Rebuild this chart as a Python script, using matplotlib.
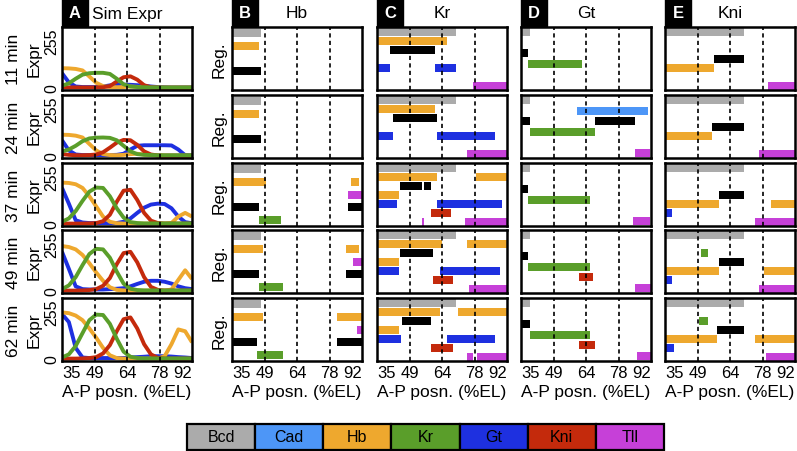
import numpy as np
import matplotlib
matplotlib.use('Agg')
import matplotlib.pyplot as plt
from matplotlib.patches import Rectangle

plt.rcParams['font.family'] = ['Liberation Sans', 'DejaVu Sans']

# ---- data ----
times = ['11 min', '24 min', '37 min', '49 min', '62 min']
xs = [35, 38, 41, 44, 47, 50, 53, 56, 59, 62, 65, 68, 71, 74, 77, 80, 83, 86, 89, 92]

# simulated expression (panel A), one list per time point
hb_expr = [
    [107, 106, 103, 95, 62, 28, 10, 5, 4, 5, 8, 6, 3, 2, 2, 1, 1, 1, 1, 1],
    [115, 114, 110, 100, 65, 30, 10, 5, 4, 6, 10, 12, 8, 4, 2, 1, 1, 1, 1, 1],
    [224, 222, 215, 195, 150, 95, 40, 12, 4, 2, 2, 2, 2, 2, 2, 2, 5, 40, 60, 40],
    [243, 238, 225, 195, 150, 100, 55, 20, 6, 3, 2, 2, 2, 2, 2, 2, 8, 60, 112, 65],
    [252, 248, 235, 210, 165, 115, 60, 20, 5, 2, 2, 2, 2, 2, 2, 15, 80, 160, 150, 90],
]
kr_expr = [
    [12, 25, 50, 72, 80, 82, 82, 76, 50, 20, 8, 5, 4, 3, 3, 3, 3, 3, 3, 3],
    [24, 35, 55, 80, 95, 99, 100, 98, 85, 55, 25, 10, 6, 5, 4, 4, 4, 4, 4, 4],
    [12, 30, 70, 125, 175, 197, 195, 150, 85, 35, 10, 5, 3, 3, 3, 3, 3, 3, 3, 3],
    [10, 30, 75, 140, 200, 228, 225, 180, 105, 40, 12, 5, 3, 3, 3, 3, 3, 3, 3, 3],
    [8, 25, 70, 140, 210, 240, 238, 190, 110, 40, 12, 5, 3, 3, 3, 3, 3, 3, 3, 3],
]
gt_expr = [
    [80, 30, 8, 5, 5, 5, 8, 14, 18, 18, 17, 15, 12, 8, 5, 3, 2, 2, 2, 2],
    [85, 30, 8, 5, 5, 5, 5, 5, 6, 12, 35, 55, 58, 58, 58, 58, 57, 35, 4, 2],
    [195, 110, 20, 8, 5, 5, 5, 5, 5, 12, 30, 60, 88, 105, 110, 108, 85, 40, 10, 4],
    [212, 120, 25, 10, 8, 8, 8, 10, 12, 15, 25, 38, 50, 55, 55, 50, 40, 25, 15, 10],
    [243, 200, 60, 8, 5, 5, 5, 5, 5, 5, 8, 10, 12, 15, 15, 15, 13, 10, 8, 5],
]
kni_expr = [
    [3, 3, 3, 3, 3, 3, 4, 10, 35, 58, 63, 45, 15, 4, 2, 2, 2, 2, 2, 2],
    [10, 6, 4, 4, 5, 8, 20, 45, 72, 87, 85, 60, 25, 8, 3, 2, 2, 2, 2, 2],
    [2, 2, 2, 2, 3, 5, 15, 50, 120, 180, 185, 130, 60, 18, 5, 2, 2, 2, 2, 2],
    [2, 2, 2, 3, 5, 10, 28, 70, 145, 205, 212, 155, 75, 22, 6, 2, 2, 2, 2, 2],
    [2, 2, 2, 3, 5, 10, 30, 75, 150, 215, 225, 165, 80, 25, 6, 2, 2, 2, 2, 2],
]

genes = ['Bcd', 'Cad', 'Hb', 'Kr', 'Gt', 'Kni', 'Tll']
colors = {'Bcd': '#ababab', 'Cad': '#4d96f7', 'Hb': '#eea82e', 'Kr': '#5a9e2a',
          'Gt': '#1e30e0', 'Kni': '#c42a0c', 'Tll': '#c640d8', 'self': 'black'}

targets = ['Hb', 'Kr', 'Gt', 'Kni']
letters = ['A', 'B', 'C', 'D', 'E']

# regulator lanes (top to bottom) for each target gene
lanes = {
    'Hb': ['Bcd', 'Hb', 'Tll', 'self', 'Kr'],
    'Kr': ['Bcd', 'Hb', 'self', 'Hb-', 'Gt', 'Kni', 'Tll'],
    'Gt': ['Bcd', 'Cad', 'self', 'Kr', 'Kni', 'Tll'],
    'Kni': ['Bcd', 'Cad', 'Kr', 'self', 'Hb-', 'Gt', 'Tll'],
}

# regulatory domains: (lane, start, end) per time point
reg_hb = [
    [('Bcd', 35, 47.8), ('Hb', 35, 46.8), ('self', 35, 47.8)],
    [('Bcd', 35, 47.8), ('Hb', 35, 46.8), ('self', 35, 47.8)],
    [('Bcd', 35, 47.8), ('Hb', 35, 49.7), ('Hb', 87, 90.8), ('Tll', 86, 92),
     ('self', 35, 46.8), ('self', 86, 92), ('Kr', 46.8, 56.7)],
    [('Bcd', 35, 47.8), ('Hb', 35, 48.7), ('Hb', 85, 90.8), ('Tll', 88, 92),
     ('self', 35, 46.8), ('self', 85, 92), ('Kr', 46.8, 57.5)],
    [('Bcd', 35, 47.8), ('Hb', 35, 48.7), ('Hb', 81, 92), ('Tll', 89.8, 92),
     ('self', 35, 45.9), ('self', 81, 92), ('Kr', 45.9, 57.5)],
]
reg_kr = [
    [('Bcd', 35, 69.5), ('Hb', 35, 65.6), ('self', 40.9, 60.4), ('Gt', 35, 40.9),
     ('Gt', 60.4, 69.5), ('Tll', 77.2, 92)],
    [('Bcd', 35, 69.5), ('Hb', 35, 60.4), ('self', 41.9, 61.4), ('Gt', 35, 41.9),
     ('Gt', 61.4, 86.9), ('Tll', 74.4, 92)],
    [('Bcd', 35, 69.5), ('Hb', 35, 61.4), ('Hb', 78.3, 92), ('self', 45, 54.8),
     ('self', 55.6, 58.5), ('Hb-', 35, 44.8), ('Gt', 35, 43.8), ('Gt', 61.4, 89.8),
     ('Kni', 58.5, 67.3), ('Tll', 54.6, 55.4), ('Tll', 73.5, 92)],
    [('Bcd', 35, 69.5), ('Hb', 35, 63.4), ('Hb', 74.4, 92), ('self', 45, 59.5),
     ('Hb-', 35, 44.8), ('Gt', 35, 44.8), ('Gt', 62.5, 88.9), ('Kni', 59.5, 68.3),
     ('Tll', 75.2, 92)],
    [('Bcd', 35, 69.5), ('Hb', 35, 62.5), ('Hb', 70.4, 92), ('self', 46, 58.5),
     ('Hb-', 35, 44.8), ('Gt', 35, 45.7), ('Gt', 65.6, 86.9), ('Kni', 58.5, 68.3),
     ('Tll', 74.4, 77.2), ('Tll', 79, 92)],
]
reg_gt = [
    [('Bcd', 35, 39), ('self', 35, 37.9), ('Kr', 37.9, 61.7)],
    [('Bcd', 35, 39), ('Cad', 59.5, 90.7), ('self', 35, 39), ('self', 67.5, 84.8),
     ('Kr', 39, 67.5), ('Tll', 84.8, 91.7)],
    [('Bcd', 35, 39), ('self', 35, 37.9), ('Kr', 37.9, 65.3), ('Tll', 83.9, 91.7)],
    [('Bcd', 35, 39), ('self', 35, 37.9), ('Kr', 37.9, 65.3), ('Kni', 60.5, 66.4),
     ('Tll', 84.8, 92)],
    [('Bcd', 35, 39), ('self', 35, 39), ('Kr', 39, 65.3), ('Kni', 60.5, 67.5),
     ('Tll', 85.8, 92)],
]
reg_kni = [
    [('Bcd', 35, 69.5), ('self', 56.7, 69.5), ('Hb-', 35, 56.7), ('Tll', 80.2, 92)],
    [('Bcd', 35, 69.5), ('self', 55.8, 69.5), ('Hb-', 35, 55.8), ('Tll', 76.4, 92)],
    [('Bcd', 35, 69.5), ('self', 58.7, 69.5), ('Hb-', 35, 58.7), ('Hb-', 81.3, 92),
     ('Gt', 35, 38.1), ('Tll', 74.3, 92)],
    [('Bcd', 35, 69.5), ('Kr', 50.8, 53.7), ('self', 58.7, 69.5), ('Hb-', 35, 58.7),
     ('Hb-', 78.3, 92), ('Gt', 35, 38.1), ('Tll', 76.4, 92)],
    [('Bcd', 35, 69.5), ('Kr', 49.9, 53.7), ('self', 57.7, 69.5), ('Hb-', 35, 57.7),
     ('Hb-', 74.3, 92), ('Gt', 35, 39), ('Tll', 79.3, 92)],
]
reg_bars = {'Hb': reg_hb, 'Kr': reg_kr, 'Gt': reg_gt, 'Kni': reg_kni}

xticks = [35, 49.25, 63.5, 77.75, 92]
xticklabels = ['35', '49', '64', '78', '92']

# ---- layout (pixels) ----
W, H = 797, 452
col_left = [62, 232, 377, 521, 665]
row_top = [28, 96, 164, 231, 299]
aw, ah = 130, 63

fig = plt.figure(figsize=(W / 100, H / 100), dpi=100)


def add_ax(left, top, w, h):
    return fig.add_axes([left / W, 1 - (top + h) / H, w / W, h / H])


def style(ax, bottom_row):
    ax.set_xlim(35, 92)
    ax.set_xticks(xticks)
    for s in ax.spines.values():
        s.set_linewidth(1.8)
        s.set_zorder(5)
    for xv in xticks[1:4]:
        ax.axvline(xv, color='black', ls=(0, (2.5, 2)), lw=1.2, zorder=4)
    ax.tick_params(axis='x', length=0, pad=3, labelsize=12)
    if bottom_row:
        labs = ax.set_xticklabels(xticklabels)
        labs[0].set_ha('left')
        labs[-1].set_ha('right')
        ax.set_xlabel('A-P posn. (%EL)', fontsize=12.5, labelpad=3)
    else:
        ax.set_xticklabels([])


for r in range(5):
    # panel A: simulated expression
    ax = add_ax(col_left[0], row_top[r], aw, ah)
    style(ax, r == 4)
    for name, data in [('Gt', gt_expr), ('Hb', hb_expr), ('Kni', kni_expr), ('Kr', kr_expr)]:
        ax.plot(xs, data[r], color=colors[name], lw=2.8, solid_capstyle='butt', zorder=3)
    ax.set_ylim(-11, 330)
    ax.set_yticks([0, 255])
    ax.set_yticklabels(['0', '255'], rotation=90, va='center', fontsize=11.5)
    ax.tick_params(axis='y', length=0, pad=2)
    ax.set_ylabel('Expr', fontsize=12.5, labelpad=2)
    fig.text(13 / W, 1 - (row_top[r] + ah / 2) / H, times[r], rotation=90,
             ha='center', va='center', fontsize=12.5)

    # panels B-E: regulatory domains
    for c, tgt in enumerate(targets):
        ax = add_ax(col_left[c + 1], row_top[r], aw, ah)
        style(ax, r == 4)
        lane_list = lanes[tgt]
        n = len(lane_list)
        hfrac = 8.0 / (ah / n)
        for lane, x0, x1 in reg_bars[tgt][r]:
            i = lane_list.index(lane)
            key = lane.rstrip('-')
            ax.barh(i + 0.5, x1 - x0, left=x0, height=hfrac,
                    color=colors[key], zorder=2)
        ax.set_ylim(n, 0)
        ax.set_yticks([])
        if c == 0:
            ax.set_ylabel('Reg.', fontsize=12.5, labelpad=4)

# panel headers
titles = ['Sim Expr'] + targets
for c in range(5):
    fig.patches.append(Rectangle((col_left[c] / W, 1 - 27 / H), 26 / W, 27 / H,
                                 transform=fig.transFigure, color='black'))
    fig.text((col_left[c] + 13) / W, 1 - 14 / H, letters[c], color='white',
             fontsize=12, fontweight='bold', ha='center', va='center')
    fig.text((col_left[c] + aw / 2) / W, 1 - 14 / H, titles[c],
             fontsize=12.5, ha='center', va='center')

# colour key
kx0, kx1, ky0, ky1 = 187, 664, 425, 451
kw = (kx1 - kx0) / len(genes)
for i, g in enumerate(genes):
    fig.patches.append(Rectangle(((kx0 + i * kw) / W, 1 - ky1 / H), kw / W, (ky1 - ky0) / H,
                                 transform=fig.transFigure, facecolor=colors[g],
                                 edgecolor='black', lw=1.6))
    fig.text((kx0 + (i + 0.5) * kw) / W, 1 - (ky0 + ky1) / 2 / H, g,
             ha='center', va='center', fontsize=11.5)

fig.savefig('out.png', dpi=100)
